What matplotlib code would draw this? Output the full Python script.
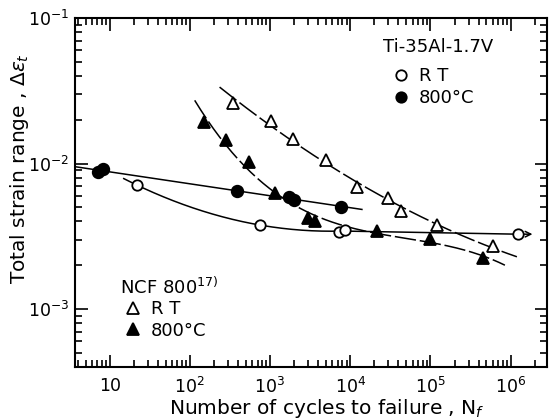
import numpy as np
import matplotlib
matplotlib.use("Agg")
import matplotlib.pyplot as plt
from matplotlib.lines import Line2D
from matplotlib.ticker import FixedLocator, FixedFormatter, LogLocator, NullFormatter

# Ti-35Al-1.7V, room temperature (open circles)
ti_rt_n = [22, 760, 7300, 8700]
ti_rt_e = [7.1e-3, 3.78e-3, 3.38e-3, 3.49e-3]
ti_rt_runout_n = [1.23e6]
ti_rt_runout_e = [3.27e-3]

# Ti-35Al-1.7V, 800 C (filled circles)
ti_800_n = [7.1, 8.2, 390, 1740, 2010, 7700]
ti_800_e = [8.75e-3, 9.17e-3, 6.47e-3, 5.89e-3, 5.61e-3, 5.03e-3]

# NCF 800, room temperature (open triangles)
ncf_rt_n = [350, 1040, 1950, 5030, 12200, 29800, 43300, 121000, 605000]
ncf_rt_e = [0.026, 0.0196, 0.0147, 0.01057, 6.89e-3, 5.8e-3, 4.72e-3, 3.77e-3, 2.71e-3]

# NCF 800, 800 C (filled triangles)
ncf_800_n = [152, 279, 553, 1170, 3000, 3670, 21700, 99300, 455000]
ncf_800_e = [0.0193, 0.0145, 0.01023, 6.27e-3, 4.22e-3, 4.03e-3, 3.44e-3, 3.03e-3, 2.25e-3]

xticks = [10, 1e2, 1e3, 1e4, 1e5, 1e6]
xticklabels = ['10', '$10^2$', '$10^3$', '$10^4$', '$10^5$', '$10^6$']
yticks = [1e-3, 1e-2, 1e-1]
yticklabels = ['$10^{-3}$', '$10^{-2}$', '$10^{-1}$']


def fit_curve(n, e, deg, n0, n1):
    p = np.polyfit(np.log10(n), np.log10(e), deg)
    xs = np.linspace(np.log10(n0), np.log10(n1), 200)
    return 10 ** xs, 10 ** np.polyval(p, xs)


def px_to_axes(px, py):
    # reference pixel -> axes fraction (axes spans x 75..547, y 18..367)
    return (px - 75) / 472, (367 - py) / 349


fig = plt.figure(figsize=(5.52, 4.2), dpi=100)
ax = fig.add_axes([0.1359, 0.1262, 0.8551, 0.8310])
ax.set_xscale('log')
ax.set_yscale('log')
ax.set_xlim(3.7, 2.85e6)
ax.set_ylim(4e-4, 0.1)

lw = 1.1
# trend lines
x, y = fit_curve(ti_rt_n, ti_rt_e, 2, 15, 8000)
ax.plot(x, y, color='black', lw=lw, zorder=2)
ax.plot([x[-1], ti_rt_runout_n[0]], [y[-1], ti_rt_runout_e[0]], color='black', lw=lw, zorder=2)
ax.annotate('', xy=(ti_rt_runout_n[0] * 1.65, ti_rt_runout_e[0]),
            xytext=(ti_rt_runout_n[0] * 1.12, ti_rt_runout_e[0]),
            arrowprops=dict(arrowstyle='->', lw=lw, color='black', mutation_scale=10))

x, y = fit_curve(ti_800_n, ti_800_e, 1, 3.7, 1.4e4)
ax.plot(x, y, color='black', lw=lw, zorder=2)

x, y = fit_curve(ncf_rt_n, ncf_rt_e, 2, 235, 1.2e6)
ax.plot(x, y, color='black', lw=lw, dashes=(14, 2.5), zorder=2)

x, y = fit_curve(ncf_800_n, ncf_800_e, 3, 115, 8.5e5)
ax.plot(x, y, color='black', lw=lw, dashes=(14, 2.5), zorder=2)

# markers
ms_c = 7.5
ms_t = 8.5
mew = 1.3
ax.plot(ti_rt_n, ti_rt_e, 'o', ms=ms_c, mfc='white', mec='black', mew=mew, zorder=3)
ax.plot(ti_rt_runout_n, ti_rt_runout_e, 'o', ms=ms_c, mfc='white', mec='black', mew=mew, zorder=3)
ax.plot(ti_800_n, ti_800_e, 'o', ms=ms_c + 0.8, mfc='black', mec='black', mew=mew, zorder=3)
ax.plot(ncf_rt_n, ncf_rt_e, '^', ms=ms_t, mfc='white', mec='black', mew=mew, zorder=3)
ax.plot(ncf_800_n, ncf_800_e, '^', ms=ms_t, mfc='black', mec='black', mew=mew, zorder=3)

# ticks
ax.xaxis.set_major_locator(FixedLocator(xticks))
ax.xaxis.set_major_formatter(FixedFormatter(xticklabels))
ax.xaxis.set_minor_locator(LogLocator(base=10, subs=np.arange(2, 10), numticks=20))
ax.xaxis.set_minor_formatter(NullFormatter())
ax.yaxis.set_major_locator(FixedLocator(yticks))
ax.yaxis.set_major_formatter(FixedFormatter(yticklabels))
ax.yaxis.set_minor_locator(LogLocator(base=10, subs=np.arange(2, 10), numticks=20))
ax.yaxis.set_minor_formatter(NullFormatter())
ax.tick_params(which='both', direction='in', top=True, right=True, width=1.2)
ax.tick_params(which='major', length=9, labelsize=12.5, pad=7)
ax.tick_params(which='minor', length=5)
ax.tick_params(axis='y', which='major', pad=4)
for s in ax.spines.values():
    s.set_linewidth(1.5)

fig.text(327 / 552, 1 - 408 / 420, 'Number of cycles to failure , N$_f$',
         ha='center', va='center', fontsize=14.5)
fig.text(20 / 552, 1 - 169 / 420, 'Total strain range , $\\Delta\\epsilon_t$',
         ha='center', va='center', rotation=90, fontsize=14.5)

# legends
fs = 13
ax.text(*px_to_axes(383, 47), 'Ti-35Al-1.7V', transform=ax.transAxes,
        ha='left', va='center', fontsize=fs)
h_ti = [Line2D([], [], ls='none', marker='o', ms=ms_c, mfc='white', mec='black', mew=mew),
        Line2D([], [], ls='none', marker='o', ms=ms_c, mfc='black', mec='black', mew=mew)]
leg1 = ax.legend(h_ti, ['R T', '800°C'], loc='upper left',
                 bbox_to_anchor=px_to_axes(392, 67), frameon=False,
                 fontsize=fs, handlelength=1.0, handletextpad=0.5,
                 labelspacing=0.25, borderpad=0, borderaxespad=0)
ax.add_artist(leg1)

ax.text(*px_to_axes(120, 287), 'NCF 800$^{17)}$', transform=ax.transAxes,
        ha='left', va='center', fontsize=fs)
h_ncf = [Line2D([], [], ls='none', marker='^', ms=ms_t, mfc='white', mec='black', mew=mew),
         Line2D([], [], ls='none', marker='^', ms=ms_t, mfc='black', mec='black', mew=mew)]
ax.legend(h_ncf, ['R T', '800°C'], loc='upper left',
          bbox_to_anchor=px_to_axes(124, 300), frameon=False,
          fontsize=fs, handlelength=1.0, handletextpad=0.5,
          labelspacing=0.2, borderpad=0, borderaxespad=0)

fig.savefig('out.png', dpi=100)
